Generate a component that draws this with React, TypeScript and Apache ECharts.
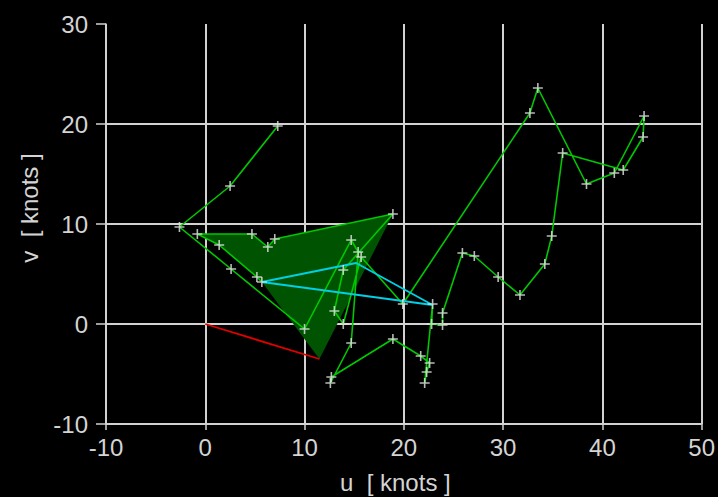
import React, { useEffect, useRef } from "react";
import * as echarts from "echarts";

// Hodograph points (u, v) in knots, in drawing order
const hodoU = [5.7, 5.2, 1.4, -0.8, 4.7, 6.3, 7.0, 18.9, 13.9, 13.0, 13.9, 15.7, 19.9, 32.7, 33.5, 38.4, 41.2, 44.2, 44.1, 42.1, 36.0, 34.9, 34.2, 31.7, 29.5, 27.1, 25.9, 23.9, 23.9, 22.8, 22.9, 22.1, 22.3, 22.6, 21.7, 18.9, 12.7, 12.6, 14.7, 15.4, 14.7, 10.0, 2.6, -2.6, 2.5, 7.3];
const hodoV = [4.2, 4.7, 7.9, 9.0, 9.0, 7.7, 8.5, 11.0, 5.4, 1.3, 0.0, 6.7, 2.0, 21.1, 23.6, 14.0, 15.1, 20.8, 18.7, 15.4, 17.1, 8.8, 6.0, 2.9, 4.7, 6.8, 7.1, 1.1, -0.1, 0.0, 2.0, -5.9, -4.8, -3.9, -3.2, -1.5, -5.3, -5.9, -1.9, 7.2, 8.4, -0.5, 5.5, 9.7, 13.8, 19.8];

// number of hodograph points enclosed in the shaded (helicity) area
const shadedCount = 8;

// storm motion vector
const stormU = 11.5;
const stormV = -3.5;

// cyan triangle
const cyanU = [5.7, 15.2, 22.9, 5.7];
const cyanV = [4.2, 6.1, 1.9, 4.2];

// axes
const xTickValues = [-10, 0, 10, 20, 30, 40, 50];
const yTickValues = [-10, 0, 10, 20, 30];
const xTitle = "u  [ knots ]";
const yTitle = "v  [ knots ]";

const FONT = "'Liberation Sans', Arial, sans-serif";
const TEXT = "#d4d4d4";
const GRID = "#d2d2d2";

const PLUS = "path://M4.2,0h1.6v4.2H10v1.6H5.8V10H4.2V5.8H0V4.2h4.2z";

export default function App() {
  const ref = useRef<HTMLDivElement | null>(null);

  useEffect(() => {
    if (!ref.current) return;
    const chart = echarts.init(ref.current, undefined, { renderer: "svg" });

    const hodo = hodoU.map((u, i) => [u, hodoV[i]]);
    const fillPts = [[stormU, stormV], ...hodo.slice(0, shadedCount)];
    const cyan = cyanU.map((u, i) => [u, cyanV[i]]);

    const xMin = xTickValues[0];
    const xMax = xTickValues[xTickValues.length - 1];
    const yMin = yTickValues[0];
    const yMax = yTickValues[yTickValues.length - 1];

    chart.setOption({
      animation: false,
      backgroundColor: "#000000",
      grid: { left: 106, right: 12, top: 24, bottom: 73, containLabel: false },
      xAxis: {
        type: "value",
        min: xMin,
        max: xMax,
        interval: 10,
        axisLine: { show: true, onZero: false, lineStyle: { color: GRID, width: 1.5 } },
        axisTick: { show: true, inside: false, length: 6, lineStyle: { color: GRID, width: 1.5 } },
        axisLabel: { color: TEXT, fontSize: 24, fontFamily: FONT, margin: 11 },
        splitLine: { show: true, lineStyle: { color: GRID, width: 2 } },
      },
      yAxis: {
        type: "value",
        min: yMin,
        max: yMax,
        interval: 10,
        axisLine: { show: true, onZero: false, lineStyle: { color: GRID, width: 1.5 } },
        axisTick: { show: true, inside: false, length: 10, lineStyle: { color: GRID, width: 1.5 } },
        axisLabel: { color: TEXT, fontSize: 24, fontFamily: FONT, margin: 18 },
        splitLine: { show: true, showMaxLine: false, lineStyle: { color: GRID, width: 2 } },
      },
      graphic: [
        {
          type: "text",
          left: 340,
          top: 470,
          style: { text: xTitle, fill: TEXT, font: `24px ${FONT}` },
        },
        {
          type: "text",
          x: 29,
          y: 208,
          rotation: Math.PI / 2,
          style: {
            text: yTitle,
            fill: TEXT,
            font: `24px ${FONT}`,
            align: "center",
            verticalAlign: "middle",
          },
        },
      ],
      series: [
        {
          type: "custom",
          silent: true,
          z: 1,
          data: [[stormU, stormV]],
          renderItem: (_params: any, api: any) => {
            const pts = fillPts.map((p) => api.coord(p));
            return {
              type: "polygon",
              shape: { points: pts },
              style: { fill: "#005300", stroke: "none" },
            };
          },
        },
        {
          type: "line",
          data: hodo,
          z: 2,
          symbol: "none",
          lineStyle: { color: "#00c800", width: 1.6 },
          silent: true,
        },
        {
          type: "line",
          data: cyan,
          z: 3,
          symbol: "none",
          lineStyle: { color: "#00d0e6", width: 1.8 },
          silent: true,
        },
        {
          type: "line",
          data: [
            [0, 0],
            [stormU, stormV],
          ],
          z: 3,
          symbol: "none",
          lineStyle: { color: "#e00000", width: 1.8 },
          silent: true,
        },
        {
          type: "scatter",
          data: hodo,
          z: 4,
          symbol: PLUS,
          symbolSize: 10,
          itemStyle: { color: "#e6e6e6" },
          silent: true,
        },
      ],
    });

    return () => chart.dispose();
  }, []);

  return (
    <div
      ref={ref}
      style={{ position: "fixed", left: 0, top: 0, width: 718, height: 497, background: "#000" }}
    />
  );
}
